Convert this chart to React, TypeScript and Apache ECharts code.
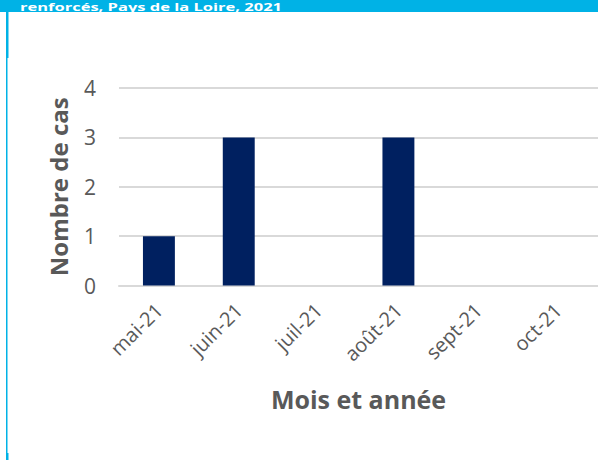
import React, { useEffect, useRef } from "react";
import * as echarts from "echarts";

const headerText = "renforcés, Pays de la Loire, 2021";
const categories = ["mai-21", "juin-21", "juil-21", "août-21", "sept-21", "oct-21"];
const cases = [1, 3, 0, 3, 0, 0];
const yTicks = [0, 1, 2, 3, 4];
const yAxisTitle = "Nombre de cas";
const xAxisTitle = "Mois et année";

const CYAN = "#00B2E6";
const GREY = "#595959";
const FONT = "'Open Sans', 'Liberation Sans', sans-serif";

export default function App() {
  const ref = useRef<HTMLDivElement>(null);
  useEffect(() => {
    if (!ref.current) return;
    const chart = echarts.init(ref.current, null, { renderer: "svg" });
    chart.setOption({
      animation: false,
      backgroundColor: "#ffffff",
      grid: { left: 119, top: 88, width: 480, height: 197.5, containLabel: false },
      xAxis: {
        type: "category",
        data: categories,
        axisLine: { show: true, lineStyle: { color: "#D9D9D9", width: 2 } },
        axisTick: { show: false },
        axisLabel: {
          rotate: 45,
          margin: 21,
          color: GREY,
          fontSize: 20,
          fontFamily: FONT,
        },
        name: xAxisTitle,
        nameLocation: "middle",
        nameGap: 101,
        nameTextStyle: { color: GREY, fontSize: 25, fontWeight: "bold", fontFamily: FONT },
      },
      yAxis: {
        type: "value",
        min: yTicks[0],
        max: yTicks[yTicks.length - 1],
        interval: 1,
        axisLine: { show: false },
        axisTick: { show: false },
        splitLine: { lineStyle: { color: "#D9D9D9", width: 2 } },
        axisLabel: { margin: 23, color: GREY, fontSize: 21, fontFamily: FONT },
        name: yAxisTitle,
        nameLocation: "middle",
        nameGap: 49,
        nameTextStyle: { color: GREY, fontSize: 24, fontWeight: "bold", fontFamily: FONT },
      },
      series: [
        {
          type: "bar",
          data: cases,
          barWidth: "40%",
          itemStyle: { color: "#002060" },
        },
      ],
      graphic: [
        { type: "rect", shape: { x: 0, y: 0, width: 598, height: 12 }, style: { fill: CYAN }, z: 10 },
        { type: "rect", shape: { x: 6, y: 12, width: 1.5, height: 448 }, style: { fill: CYAN }, z: 10 },
        { type: "rect", shape: { x: 6, y: 12, width: 2.5, height: 46 }, style: { fill: CYAN }, z: 10 },
        { type: "rect", shape: { x: 6, y: 453, width: 2.5, height: 7 }, style: { fill: CYAN }, z: 10 },
        {
          type: "text",
          x: 20,
          y: 1,
          scaleX: 1.5,
          z: 11,
          style: {
            text: headerText,
            fill: "#ffffff",
            font: `bold 11px ${FONT}`,
            lineHeight: 11,
            verticalAlign: "top",
          },
        },
      ],
    });
    return () => chart.dispose();
  }, []);
  return (
    <div
      ref={ref}
      style={{ position: "fixed", left: 0, top: 0, width: 598, height: 460 }}
    />
  );
}
